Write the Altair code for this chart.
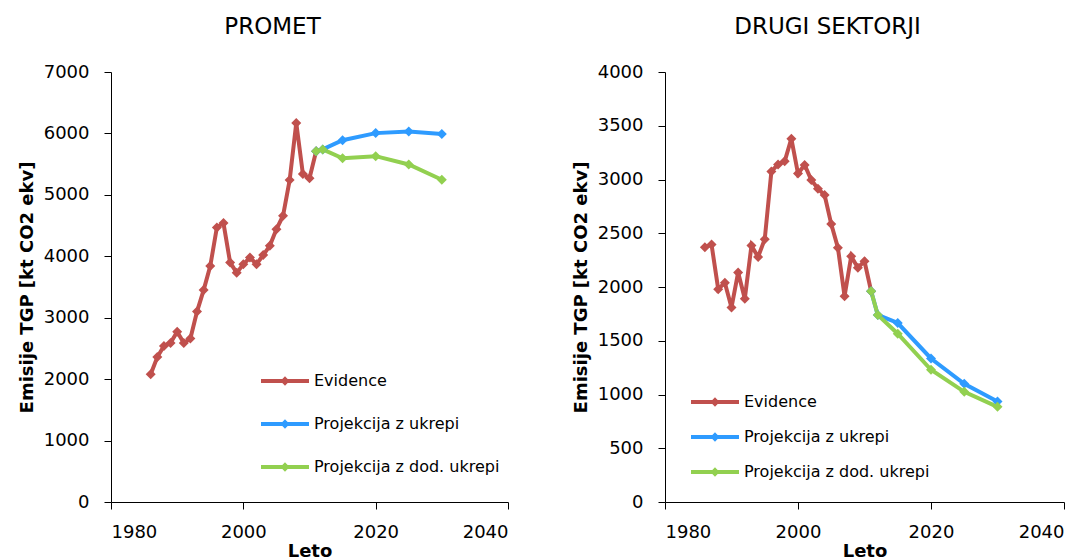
import altair as alt
import pandas as pd

FONT = "DejaVu Sans"
SERIES = ["Evidence", "Projekcija z ukrepi", "Projekcija z dod. ukrepi"]
COLORS = ["#C0504D", "#2E9BFF", "#92D050"]

ev_years = list(range(1986, 2012))
promet_ev = [2080, 2360, 2540, 2590, 2770, 2590, 2660, 3100, 3450, 3840, 4470, 4540,
             3900, 3730, 3870, 3980, 3870, 4020, 4170, 4440, 4660, 5240, 6170, 5340,
             5270, 5710]
drugi_ev = [2370, 2395, 1980, 2040, 1810, 2135, 1890, 2385, 2280, 2445, 3075, 3140,
            3170, 3380, 3055, 3135, 2995, 2915, 2855, 2585, 2365, 1915, 2285, 2180,
            2240, 1960]

proj_years = [2011, 2012, 2015, 2020, 2025, 2030]
promet_uk = [5710, 5740, 5890, 6005, 6030, 5990]
promet_dod = [5710, 5740, 5595, 5630, 5495, 5245]
drugi_uk = [1960, 1740, 1665, 1335, 1100, 935]
drugi_dod = [1960, 1740, 1565, 1230, 1025, 885]

LEG_PATH = "M-2,0L2,0M0,-0.15L0.15,0L0,0.15L-0.15,0Z"


def make_df(ev, uk, dod):
    rows = []
    for y, v in zip(ev_years, ev):
        rows.append({"Leto": y, "val": v, "s": SERIES[0]})
    for y, v in zip(proj_years, uk):
        rows.append({"Leto": y, "val": v, "s": SERIES[1]})
    for y, v in zip(proj_years, dod):
        rows.append({"Leto": y, "val": v, "s": SERIES[2]})
    return pd.DataFrame(rows)


def panel(title, df, ymax, ystep, lx, ly, rowpad, w):
    color_scale = alt.Scale(domain=SERIES, range=COLORS)
    x = alt.X("Leto:Q", scale=alt.Scale(domain=[1980, 2040], nice=False),
              axis=alt.Axis(values=[1980, 2000, 2020, 2040], title="Leto", format="d"))
    y = alt.Y("val:Q", scale=alt.Scale(domain=[0, ymax], nice=False),
              axis=alt.Axis(values=list(range(0, ymax + 1, ystep)), format="d",
                            title="Emisije TGP [kt CO2 ekv]"))
    legend = alt.Legend(title=None, orient="none", legendX=lx, legendY=ly,
                        symbolType=LEG_PATH, symbolSize=576, symbolStrokeWidth=4,
                        labelFontSize=16, labelFont=FONT, labelColor="black",
                        rowPadding=rowpad, labelOffset=15, labelLimit=400)
    line = alt.Chart(df).mark_line(strokeWidth=4).encode(
        x=x, y=y,
        color=alt.Color("s:N", scale=color_scale, legend=legend, sort=SERIES),
        order=alt.Order("Leto:Q"),
    )
    pts = alt.Chart(df).mark_point(shape="diamond", filled=True, size=100, opacity=1).encode(
        x=x, y=y,
        color=alt.Color("s:N", scale=color_scale, legend=None, sort=SERIES),
    )
    return alt.layer(line, pts).properties(
        width=w, height=430,
        title=alt.TitleParams(title, fontSize=23, fontWeight="normal", font=FONT,
                              frame="group", anchor="middle", dx=-37, offset=24,
                              color="black"),
    )


left = panel("PROMET", make_df(promet_ev, promet_uk, promet_dod), 7000, 1000, 160, 295, 19, 397)
right = panel("DRUGI SEKTORJI", make_df(drugi_ev, drugi_uk, drugi_dod), 4000, 500, 36, 316, 11, 399)

chart = alt.hconcat(left, right, spacing=63).resolve_scale(color="independent").resolve_legend(
    color="independent"
).configure_view(stroke=None).configure_axis(
    grid=False, domainColor="black", tickColor="black", tickSize=7, domainWidth=1,
    labelFont=FONT, labelFontSize=18, labelColor="black",
    titleFont=FONT, titleFontSize=18, titleFontWeight="bold", titleColor="black",
).configure_axisY(titlePadding=7, labelPadding=15).configure_axisX(
    titlePadding=1, labelPadding=14
).properties(
    padding={"left": 10, "top": 8, "right": 5, "bottom": 0}
)

chart.save("out.html", embed_options={"renderer": "svg", "actions": False})
